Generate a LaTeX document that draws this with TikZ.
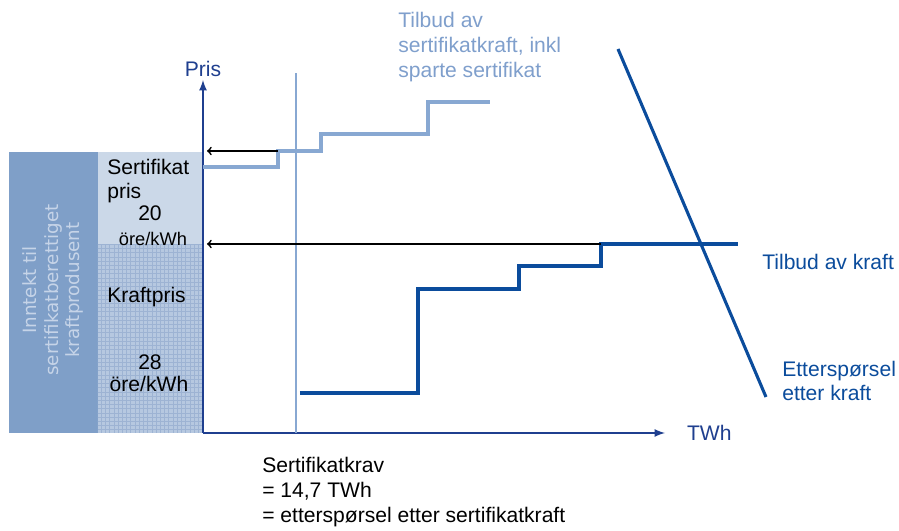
\documentclass[tikz,border=0pt]{standalone}
\usepackage{fontspec}
\setmainfont{Liberation Sans}
\newfontfamily\vfont{DejaVu Sans}
\usepackage{tikz}
\usetikzlibrary{arrows,patterns}

\definecolor{navy}{HTML}{1F3F8F}
\definecolor{kraftblue}{HTML}{0B4C9C}
\definecolor{sertblue}{HTML}{88A8D2}
\definecolor{sertlabel}{HTML}{7F9FCC}
\definecolor{inntekt}{HTML}{7F9FC8}
\definecolor{inntekttext}{HTML}{C6D4E8}
\definecolor{sertbox}{HTML}{CBD8E8}
\definecolor{kraftbox}{HTML}{B6C8E0}
\definecolor{kraftgrid}{HTML}{9DB3D3}

\tikzset{
  big/.style={font=\fontsize{15}{17.5}\selectfont, inner sep=0pt},
  small/.style={font=\fontsize{13}{15}\selectfont, inner sep=0pt},
  vert/.style={font=\vfont\fontsize{13}{15.6}\selectfont, text=inntekttext}
}

\begin{document}
\begin{tikzpicture}
    \useasboundingbox (-5.075, -2.45) rectangle (17.4, 10.825);

    \fill [inntekt] (-4.85, 0) rectangle (-2.625, 7.025);
    \fill [sertbox] (-2.625, 4.7) rectangle (0, 7.025);
    \fill [kraftbox] (-2.625, 0) rectangle (0, 4.7);
    \fill [pattern=grid, pattern color=kraftgrid] (-2.625, 0) rectangle (0, 4.7);

    \node (inntekt) [vert, rotate=90, align=center] at (-3.75, 3.575) {Inntekt til\\sertifikatberettiget\\kraftprodusent};
    \node (sertpris) [big, anchor=west, align=left] at (-2.4, 6.3) {Sertifikat\\pris};
    \node (sert20) [big] at (-1.325, 5.5) {20};
    \node (sertenhet) [small] at (-1.25, 4.85) {öre/kWh};
    \node (kraftpris) [big, anchor=west] at (-2.4, 3.4) {Kraftpris};
    \node (kraft28) [big] at (-1.325, 1.775) {28};
    \node (kraftenhet) [big] at (-1.35, 1.225) {öre/kWh};

    \draw [navy, line width=1.5pt, -latex] (0, 0) -- (0, 8.825) node (pris) [big, above=0.05cm, text=navy] {Pris};
    \draw [navy, line width=1.5pt, -latex] (0, 0) -- (11.55, 0) node (twh) [big, right=0.525cm, text=navy] {TWh};

    \draw [sertblue, line width=1.8pt] (2.325, 0) -- (2.325, 9.0);
    \draw [sertblue, line width=2.2pt] (0, 6.65) -- (1.875, 6.65) -- (1.875, 7.05) -- (2.95, 7.05) -- (2.95, 7.475) -- (5.625, 7.475) -- (5.625, 8.275) -- (7.175, 8.275);

    \draw [kraftblue, line width=2.6pt] (2.425, 1.0) -- (5.375, 1.0) -- (5.375, 3.6) -- (7.9, 3.6) -- (7.9, 4.175) -- (9.95, 4.175) -- (9.95, 4.725) -- (13.375, 4.725);
    \draw [kraftblue, line width=2.2pt] (10.375, 9.6) -- (14.075, 0.9);

    \coordinate (sertsteg) at (1.875, 7.05);
    \coordinate (sertakse) at (0.1, 7.05);
    \coordinate (kraftsteg) at (9.95, 4.725);
    \coordinate (kraftakse) at (0.1, 4.725);
    \draw [->, line width=1.2pt] (sertsteg) -- (sertakse);
    \draw [->, line width=1.2pt] (kraftsteg) -- (kraftakse);

    \node (tilbudsert) [big, text=sertlabel, anchor=west, align=left] at (4.875, 9.65) {Tilbud av\\sertifikatkraft, inkl\\sparte sertifikat};
    \node (tilbudkraft) [big, text=kraftblue, anchor=west] at (13.975, 4.275) {Tilbud av kraft};
    \node (etterspoersel) [big, text=kraftblue, anchor=west, align=left] at (14.475, 1.3) {Etterspørsel\\etter kraft};
    \node (krav) [big, anchor=west, align=left] at (1.475, -1.475) {Sertifikatkrav\\= 14,7 TWh\\= etterspørsel etter sertifikatkraft};
\end{tikzpicture}
\end{document}
